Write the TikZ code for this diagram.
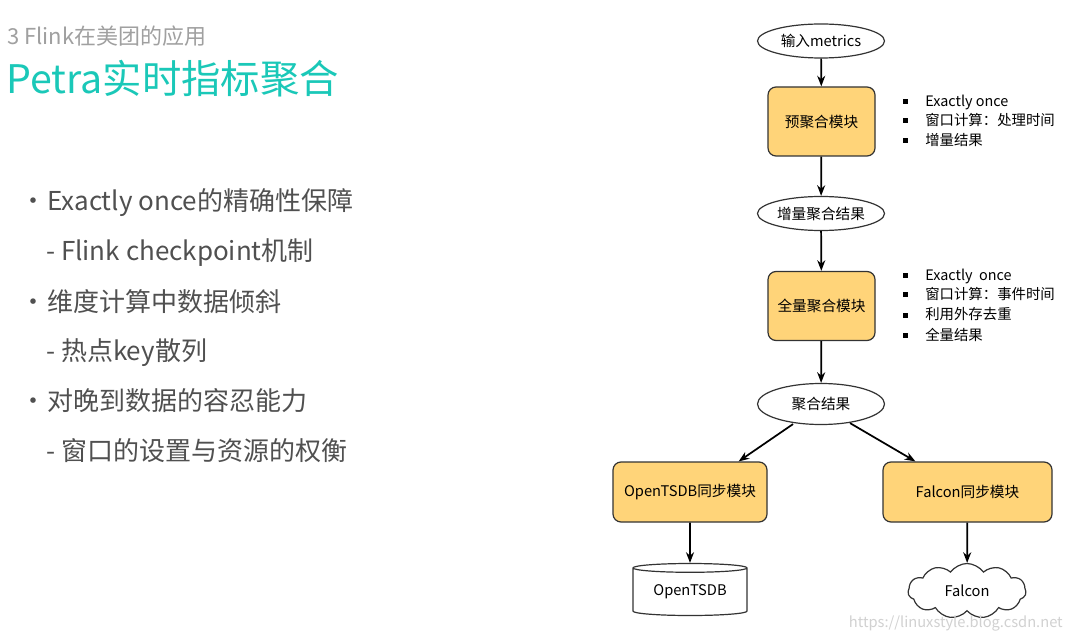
\documentclass[tikz,border=0pt]{standalone}
\usepackage{fontspec}
\setmainfont{Noto Sans CJK SC}
\usetikzlibrary{shapes.geometric,shapes.symbols,arrows.meta,calc}
\definecolor{boxfill}{RGB}{255,212,121}
\definecolor{teal}{RGB}{26,200,184}
\definecolor{slidegray}{RGB}{160,160,160}
\definecolor{bodytext}{RGB}{80,80,80}
\tikzset{
  x=0.75pt, y=-0.75pt,
  module/.style={draw=black!80, line width=0.9pt, fill=boxfill, rounded corners=6pt, font=\fontsize{11}{13}\selectfont, inner sep=0pt},
  oval/.style={draw=black!80, line width=0.9pt, fill=white, ellipse, font=\fontsize{11}{13}\selectfont, inner sep=0pt, minimum width=127*0.75pt, minimum height=34*0.75pt},
  flow/.style={-{Stealth[length=8pt,width=6pt]}, line width=1.3pt},
  note/.style={anchor=base west, font=\fontsize{10.8}{12}\selectfont, inner sep=0pt},
  bul/.style={anchor=base west, font=\fontsize{19.5}{22}\selectfont, text=bodytext, inner sep=0pt},
  dot/.style={anchor=base, font=\fontsize{19.5}{22}\selectfont, text=bodytext, inner sep=0pt},
}
\begin{document}
\begin{tikzpicture}
\useasboundingbox (0,0) rectangle (1073,641);
\fill[white] (0,0) rectangle (1073,641);

% titles
\node[anchor=base west, inner sep=0pt, text=slidegray, font=\fontsize{16.5}{19}\selectfont] (sub) at (7,45) {3 Flink在美团的应用};
\node[anchor=base west, inner sep=0pt, text=teal, font=\fontsize{29.5}{33}\selectfont] (title) at (6,94) {Petra实时指标聚合};

% left bullets
\node[dot] (d1) at (34,211) {•};
\node[bul] (b1) at (47,211) {Exactly once的精确性保障};
\node[bul] (b2) at (46,261) {- Flink checkpoint机制};
\node[dot] (d3) at (34,311) {•};
\node[bul] (b3) at (47,311) {维度计算中数据倾斜};
\node[bul] (b4) at (46,360) {- 热点key散列};
\node[dot] (d5) at (34,410) {•};
\node[bul] (b5) at (47,410) {对晚到数据的容忍能力};
\node[bul] (b6) at (46,460) {- 窗口的设置与资源的权衡};

% diagram
\node[oval] (in) at (821,41) {输入metrics};
\node[module, minimum width=107*0.75pt, minimum height=69*0.75pt] (pre) at (821.5,121.5) {预聚合模块};
\node[oval] (inc) at (821,213.5) {增量聚合结果};
\node[module, minimum width=107*0.75pt, minimum height=69*0.75pt] (full) at (821.5,306) {全量聚合模块};
\node[oval, minimum height=41*0.75pt] (agg) at (821,404) {聚合结果};
\node[module, minimum width=154*0.75pt, minimum height=60*0.75pt] (osync) at (690,492) {OpenTSDB同步模块};
\node[module, minimum width=169*0.75pt, minimum height=60*0.75pt] (fsync) at (967.5,492) {Falcon同步模块};
\node[cylinder, shape border rotate=90, aspect=0.12, draw=black!80, line width=0.9pt, fill=white, minimum width=114*0.75pt, minimum height=52*0.75pt, font=\fontsize{11}{13}\selectfont, inner sep=0pt] (odb) at (690,592) {OpenTSDB};
\node[cloud, cloud puffs=11, cloud puff arc=110, aspect=2.1, draw=black!80, line width=0.9pt, fill=white, minimum width=118*0.75pt, minimum height=55*0.75pt, font=\fontsize{11}{13}\selectfont, inner sep=0pt] (fal) at (967,591) {Falcon};

\draw[flow] (in) -- (pre);
\draw[flow] (pre) -- (inc);
\draw[flow] (inc) -- (full);
\draw[flow] (full) -- (agg);
\draw[flow] ($(agg.south)+(-28,-1)$) -- ($(osync.north east)+(-29,0)$);
\draw[flow] ($(agg.south)+(29,-2)$) -- ($(fsync.north west)+(33,0)$);
\draw[flow] (osync) -- (odb);
\draw[flow] (fsync) -- (fal);

% notes
\node[note] (n11) at (925,107) {Exactly once};
\node[note] (n12) at (925,126) {窗口计算：处理时间};
\node[note] (n13) at (925,146) {增量结果};
\node[note] (n21) at (925,281) {Exactly\ \ once};
\node[note] (n22) at (925,300) {窗口计算：事件时间};
\node[note] (n23) at (925,320) {利用外存去重};
\node[note] (n24) at (925,340) {全量结果};
\foreach \yy in {102,121,141,276,295,315,335}
  \fill (903,\yy-2.5) rectangle (908,\yy+2.5);

\node[anchor=base east, inner sep=0pt, text=black!18, font=\fontsize{11}{13}\selectfont] (wm) at (1063,627) {https://linuxstyle.blog.csdn.net};
\end{tikzpicture}
\end{document}
